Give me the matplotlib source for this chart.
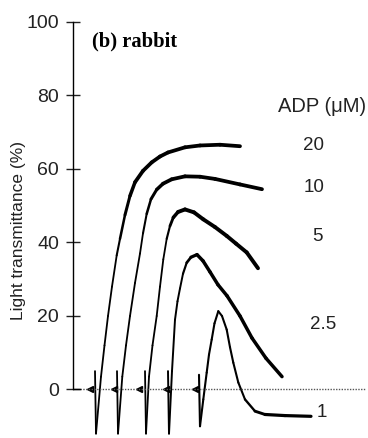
import matplotlib
matplotlib.use("Agg")
import numpy as np
import matplotlib.pyplot as plt
from matplotlib.collections import LineCollection

# Tiempos (unidades arbitrarias) y transmitancia (%)
t_20 = [22, 23, 28, 31.5, 35, 39, 43.7, 47, 52, 57, 62, 70, 78.7, 87, 95,
        112, 127, 147, 167]
y_20 = [5, -12, 3.5, 12, 20, 28, 36.5, 41, 47.5, 52.7, 56.4, 59.5, 61.8,
        63.4, 64.5, 65.9, 66.4, 66.6, 66.2]

t_10 = [44, 45, 49.3, 53, 57, 62, 67, 70, 73.7, 78, 83.7, 90, 98.7, 112,
        127, 142, 167, 189]
y_10 = [5, -12, 3.5, 12, 20, 29, 37, 42.5, 47.8, 51.8, 54.4, 56, 57.2, 58,
        57.9, 57.3, 55.8, 54.5]

t_5 = [72, 73, 76, 79.5, 83.7, 87, 90.3, 93.7, 97, 100.3, 105, 112, 121,
       130.3, 142, 153.7, 163, 173.7, 185]
y_5 = [5, -12, 3.5, 12, 20, 28, 35.4, 41, 44.5, 46.8, 48.3, 49, 48.2, 46.3,
       44.2, 41.8, 39.7, 37.3, 33]

t_25 = [95, 96, 99, 102, 104.5, 107, 110, 113.7, 118, 124, 130, 137, 145,
        154, 167, 179, 193, 209]
y_25 = [5, -12, 5, 19, 24, 27.5, 31.5, 34.5, 36, 36.7, 35, 32, 28.5, 25.5,
        20, 14, 8.5, 3.5]

t_1 = [126, 127, 130.3, 133.7, 136, 138.7, 141.5, 145.3, 149, 153.7, 157,
       160.3, 165.3, 172, 182, 192, 212, 238]
y_1 = [4, -10, -2.7, 4.6, 9.5, 13.6, 18, 21.3, 20, 16.3, 11.5, 7.3, 1.9,
       -2.7, -5.9, -6.8, -7.1, -7.3]

t_add = [17, 41, 66, 93, 122]  # momento de adicion de ADP (flechas)

adp_labels = ["20", "10", "5", "2.5", "1"]
label_y = [66.3, 55, 41.6, 17.7, -6.3]
label_x = [241, 241, 244, 250, 249]

curves = [(t_20, y_20), (t_10, y_10), (t_5, y_5), (t_25, y_25), (t_1, y_1)]
# tramo donde el trazo pasa de fino a grueso (indices de punto)
ramps = [(6, 10), (7, 11), (7, 10), (6, 9), (13, 15)]
thin, thick = [1.3, 1.3, 1.3, 1.4, 1.5], [2.7, 2.7, 2.8, 2.5, 2.3]

plt.rcParams["font.family"] = ["Liberation Sans", "DejaVu Sans"]

fig = plt.figure(figsize=(3.68, 4.38), dpi=100)
ax = fig.add_axes([73 / 368, 0, 1 - 73 / 368, 416 / 438])
ax.set_xlim(0, 295)
ax.set_ylim(-13.2, 100)

for (t, y), (a, b), w0, w1 in zip(curves, ramps, thin, thick):
    pts = np.column_stack([t, y])
    segs = np.stack([pts[:-1], pts[1:]], axis=1)
    idx = np.arange(len(segs)) + 0.5
    widths = np.interp(idx, [a, b], [w0, w1])
    lc = LineCollection(segs, linewidths=widths, colors="black",
                        capstyle="round", joinstyle="round")
    ax.add_collection(lc)

ax.plot(t_add, [0] * len(t_add), "<", color="black", ms=5)
ax.axhline(0, xmin=7 / 295, xmax=292 / 295, color="#555555", lw=1.0,
           ls=(0, (1, 1)))
ax.plot([0, 7], [0, 0], color="black", lw=1.0)

for lab, xx, yy in zip(adp_labels, label_x, label_y):
    ax.text(xx, yy, lab, fontsize=13.5, ha="center", va="center",
            color="#222222")
ax.text(293, 77, "ADP (\u03bcM)", fontsize=14.5, ha="right", va="center",
        color="#222222")
ax.text(19, 94.6, "(b) rabbit", fontsize=14.8, fontweight="bold",
        family=["Liberation Serif", "DejaVu Serif"], ha="left", va="center")

for s in ["top", "right", "bottom"]:
    ax.spines[s].set_visible(False)
ax.spines["left"].set_bounds(0, 100)
ax.spines["left"].set_linewidth(1.0)
ax.set_xticks([])
ax.set_yticks([0, 20, 40, 60, 80, 100])
ax.tick_params(axis="y", direction="inout", length=10, width=1.0,
               labelsize=14, pad=5, colors="#222222")
ax.set_ylabel("Light transmittance (%)", fontsize=12.5, labelpad=0,
              color="#222222")

fig.savefig("out.png", dpi=100, facecolor="white")
